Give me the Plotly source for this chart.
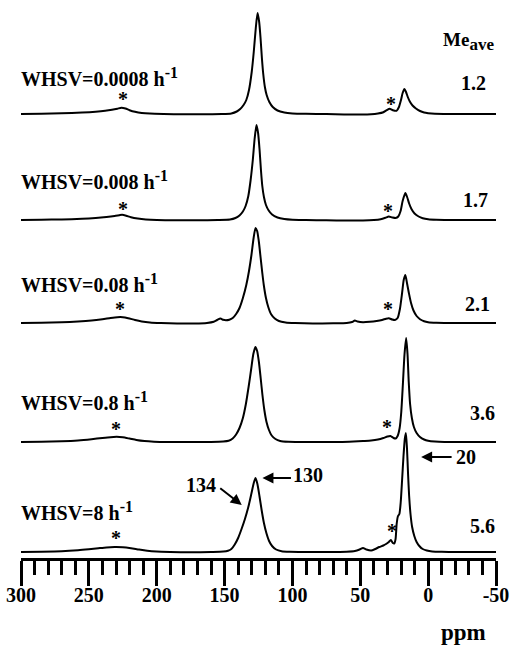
import plotly.graph_objects as go

# ---------------- data (ppm, intensity above baseline) ----------------
spec_0008 = [(300,0),(285,0.3),(270,0.8),(255,1.5),(245,2.3),(238,3.2),(233,4.2),(229,5.3),(226,6.3),(223,5.5),(220,3.8),(216,2.2),(211,1.0),(205,0.4),(195,0),(180,-0.3),(165,-0.2),(152,0),(145,0.6),(141,2.5),(138.5,5),(136,9),(134,14),(132,24),(130,42),(128.5,62),(127,86),(125.7,101),(124.5,92),(123.5,76),(122.5,56),(121.5,40),(120.3,27),(119,19),(117,12),(114.5,7),(111,3.5),(106,1.5),(100,0.6),(90,0.2),(75,0),(62,-0.5),(50,-0.6),(42,-0.3),(37,0.5),(33,1.8),(30.5,3.8),(28.4,5.2),(26,3.8),(23.3,3.2),(21.5,7),(20,14),(18.8,21),(17.5,25),(16.3,22),(15,17),(13.5,12.5),(11.5,8.5),(9,5.5),(6,3),(3,1.5),(0,0.8),(-5,0.2),(-15,0),(-30,0),(-50,0)]

spec_008 = [(300,0),(285,0.2),(270,0.6),(255,1.2),(245,2),(237,3),(231,4),(227.5,4.8),(225.5,5.2),(222.5,4.3),(219,2.8),(214,1.5),(208,0.6),(200,0),(185,-0.3),(170,-0.2),(155,0),(146,0.5),(142,2),(139,4.5),(136.5,8.5),(134.5,14),(132.5,24),(130.8,40),(129.2,60),(127.8,82),(126.5,95),(125.3,87),(124.2,70),(123.2,50),(122.2,34),(121,23),(119.5,15),(117.5,9.5),(115,5.5),(111,2.5),(106,1),(100,0.3),(90,0),(75,-0.3),(60,-0.5),(48,-0.5),(40,0),(35,0.8),(31.5,2.2),(29,3.5),(26.5,2.6),(24,2),(22,3.5),(20.3,9),(18.8,19),(16.8,27),(15.5,23),(14,16.5),(12.3,11),(10,6.5),(7,3.5),(4,1.8),(0,0.7),(-6,0.2),(-15,0),(-30,0),(-50,0)]

spec_08 = [(300,0),(285,0.3),(270,0.8),(258,1.5),(248,2.5),(240,3.8),(234,5),(229,5.8),(225,5.8),(221,4.8),(216,3),(211,1.6),(205,0.6),(197,0),(185,-0.5),(172,-0.5),(163,0),(158,1.2),(155.5,3),(153,4.5),(151,3.2),(149,2.8),(146.5,3.3),(144,5),(141.5,9),(139,15),(136.5,25),(134,38),(132,52),(130.2,68),(128.6,85),(127.2,95),(126,92),(124.8,82),(123.5,66),(122.2,50),(121,37),(119.5,25),(117.8,16),(115.8,9),(113,4.5),(110,2),(105,0.6),(98,0),(85,-0.5),(70,-0.3),(60,0),(56,1),(54,2.5),(52,1.5),(48,0.8),(43,1.2),(38,2),(34,3),(31,4.3),(29,4.8),(26.5,3.5),(24.5,3),(22.5,5),(20.8,14),(19.2,30),(18,43),(16.8,48),(15.6,40),(14.2,30),(12.6,20),(10.8,12.5),(8.5,7),(6,3.8),(3,1.8),(0,0.8),(-6,0.2),(-15,0),(-30,0),(-50,0)]

spec_8e_1 = [(300,0),(285,0.3),(270,0.8),(258,1.6),(248,2.8),(240,4),(234,4.8),(229.5,5.2),(225,4.7),(220,3.4),(215,2),(209,0.9),(202,0.3),(192,0),(175,0),(160,0),(151,0.4),(147,1.2),(144,3.5),(141.5,7.5),(139,14),(136.5,24),(134.3,38),(132.3,55),(130.5,72),(128.8,88),(127.3,95),(126,91),(124.7,80),(123.4,64),(122.1,47),(120.7,32),(119.1,20),(117.3,12),(115.3,6.5),(112.5,3),(109,1),(103,0.2),(95,0),(80,0),(65,0),(55,0.5),(48,1),(42,1.5),(37,2.5),(33,4),(30,5.5),(27.8,6),(25.5,4),(24,3.5),(22.5,6),(21,14),(19.8,30),(18.6,58),(17.4,88),(16.2,104),(15.2,88),(14.3,60),(13.3,38),(12,24),(10.5,15),(8.5,9),(6,5),(3,2.5),(0,1.2),(-5,0.4),(-12,0),(-30,0),(-50,0)]

spec_8 = [(300,0),(285,0.3),(270,0.8),(258,1.8),(250,2.8),(243,3.8),(237,4.6),(231,5),(225,4.8),(219,3.8),(213,2.4),(207,1.2),(200,0.4),(190,0),(175,-0.3),(160,0),(151,0.4),(147.5,1.2),(145,3),(142.5,7.5),(140,14),(137.5,23),(135,33),(132.5,45),(130.3,58),(128.5,69),(127.2,74),(125.8,68),(124.3,56),(122.7,42),(121,29),(119.2,19),(117.2,11),(115,6),(112,2.5),(108,0.8),(102,0.2),(92,0),(75,0),(60,0.3),(54,1),(50.5,2.5),(48,4),(45.5,2.5),(42,1.5),(39,3),(36,5),(33,6.5),(31,8),(29,10),(27.5,12),(26,9),(25,8.5),(24,13),(23.2,28),(22.2,36),(21.2,38),(20.2,50),(19.2,72),(18.2,95),(17.2,113),(16.4,119),(15.6,104),(14.8,78),(14,56),(13,38),(11.8,25),(10.2,16),(8.5,10),(6.5,6),(4,3),(1,1.5),(-3,0.6),(-10,0.2),(-20,0),(-35,0),(-50,0)]

spectra = [spec_0008, spec_008, spec_08, spec_8e_1, spec_8]
whsv_labels = ["WHSV=0.0008 h", "WHSV=0.008 h", "WHSV=0.08 h", "WHSV=0.8 h", "WHSV=8 h"]
whsv_unit_exp = "-1"
me_ave = ["1.2", "1.7", "2.1", "3.6", "5.6"]
tick_vals = [300, 250, 200, 150, 100, 50, 0, -50]
tick_text = ["300", "250", "200", "150", "100", "50", "0", "-50"]
peak_labels = ["134", "130", "20"]

# ---------------- layout helpers (pixel -> paper units) ----------------
W, H = 514, 646
L, R, T, B = 21, 11, 5, 88
AXIS_Y = H - B  # 558
PW, PH = W - L - R, AXIS_Y - T


def pap_x(px):
    return (px - L) / PW


def pap_y(py):
    return (AXIS_Y - py) / PH


baselines_px = [114, 220, 323, 442, 552]

fig = go.Figure()
for spec, bpx in zip(spectra, baselines_px):
    xs = [p[0] for p in spec]
    ys = [p[1] + (AXIS_Y - bpx) for p in spec]
    fig.add_trace(go.Scatter(x=xs, y=ys, mode="lines",
                             line=dict(color="black", width=2, shape="spline", smoothing=0.6),
                             showlegend=False, hoverinfo="skip"))

FONT = "Liberation Serif"


def text_ann(txt, xp, yp, size, xanchor="center"):
    return dict(xref="paper", yref="paper", x=pap_x(xp), y=pap_y(yp), text=txt,
                xanchor=xanchor, yanchor="middle", showarrow=False,
                font=dict(family=FONT, size=size, color="black", weight="bold"))


ann = []
label_y_px = [77, 180, 283, 401, 511]
for txt, ypx in zip(whsv_labels, label_y_px):
    full = txt + '<sup><span style="font-size:16px">' + whsv_unit_exp + '</span></sup>'
    ann.append(text_ann(full, 19, ypx, 20, "left"))

val_pos = [(480, 83), (482, 200), (484, 304), (489, 413), (489, 526)]
for txt, (xp, yp) in zip(me_ave, val_pos):
    ann.append(text_ann(txt, xp, yp, 20))

ann.append(text_ann('Me<sub><span style="font-size:17px">ave</span></sub>', 503, 42, 19, "right"))

star_pos = [(124, 95), (396, 100), (124, 205), (393, 207), (121, 305), (393, 305),
            (117, 425), (392, 423), (117, 534), (397, 527)]
for xp, yp in star_pos:
    ann.append(text_ann("*", xp, yp + 4, 20))

lbl_pos = [(204, 485), (312, 475), (473, 457)]
for txt, (xp, yp) in zip(peak_labels, lbl_pos):
    ann.append(text_ann(txt, xp, yp, 20))

arrows = [((245, 505), (222, 487)), ((266, 478), (296, 478)), ((427, 457), (459, 457))]
for (hx, hy), (tx, ty) in arrows:
    ann.append(dict(xref="paper", yref="paper", x=pap_x(hx), y=pap_y(hy),
                    ax=tx - hx, ay=ty - hy, text="", showarrow=True,
                    arrowhead=2, arrowsize=1.1, arrowwidth=2, arrowcolor="black"))

ann.append(text_ann("ppm", 470, 632, 23))

fig.update_layout(
    width=W, height=H, margin=dict(l=L, r=R, t=T, b=B),
    paper_bgcolor="white", plot_bgcolor="white",
    annotations=ann,
    xaxis=dict(range=[300, -50], showgrid=False, zeroline=False,
               showline=True, linecolor="black", linewidth=2.5,
               tickmode="array", tickvals=tick_vals, ticktext=tick_text,
               ticks="outside", ticklen=25, tickwidth=2.5, tickcolor="black",
               ticklabelstandoff=-8, ticklabeloverflow="allow",
               tickfont=dict(family=FONT, size=20, color="black", weight="bold"),
               minor=dict(dtick=10, tick0=0, ticks="outside", ticklen=14, tickwidth=2.5, tickcolor="black")),
    yaxis=dict(range=[0, PH], visible=False, showgrid=False, zeroline=False),
)

fig.write_html("out.html")
